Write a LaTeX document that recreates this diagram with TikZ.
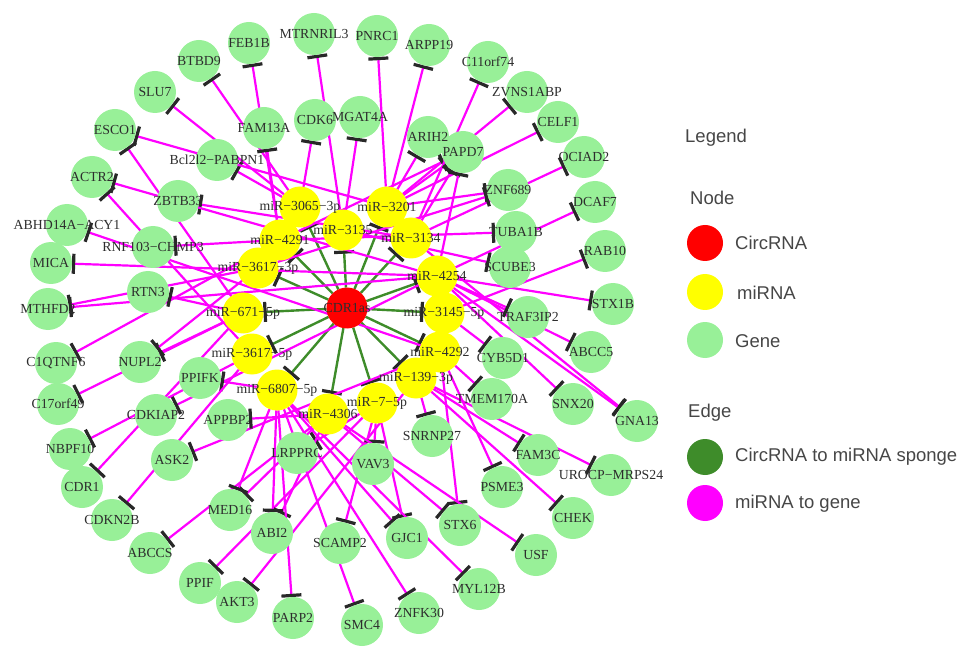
\documentclass[tikz,border=0pt]{standalone}
\usepackage{fontspec}
\setmainfont{Liberation Serif}
\newfontfamily\legfont{Liberation Sans}
\usetikzlibrary{arrows.meta}
\pgfdeclarelayer{bg}
\pgfsetlayers{bg,main}
\definecolor{genefill}{RGB}{152,240,152}
\definecolor{mirfill}{RGB}{255,255,0}
\definecolor{circfill}{RGB}{255,0,0}
\definecolor{spongecol}{RGB}{62,140,42}
\definecolor{mgcol}{RGB}{255,0,255}
\definecolor{barcol}{RGB}{40,40,40}
\definecolor{labcol}{RGB}{45,45,45}
\definecolor{legcol}{RGB}{70,70,70}
\def\genes{BTBD9/199/61/BTBD9, FEB1B/249/43/FEB1B, MTRN/314/34/MTRNRIL3, PNRC1/377/36/PNRC1, ARPP19/429/45/ARPP19, C11orf74/488/62/C11orf74, ZVNS/527/92/ZVNS1ABP, CELF1/558/122/CELF1, OCIAD2/584/157/OCIAD2, DCAF7/595/202/DCAF7, RAB10/605/251/RAB10, STX1B/613/304/STX1B, ABCC5/591/352/ABCC5, SNX20/573/404/SNX20, GNA13/637/421/GNA13, UROCP/611/475/UROCP−MRPS24, CHEK/573/518/CHEK, USF/536/555/USF, MYL12B/479/589/MYL12B, ZNFK30/419/613/ZNFK30, SMC4/362/625/SMC4, PARP2/293/618/PARP2, AKT3/237/602/AKT3, PPIF/200/583/PPIF, ABCCS/150/553/ABCCS, CDKN2B/112/520/CDKN2B, CDR1/82/487/CDR1, NBPF10/70/449/NBPF10, C17orf49/58/404/C17orf49, C1QTNF6/56/363/C1QTNF6, MTHFD2/48/309/MTHFD2, MICA/51/263/MICA, ABHD/67/225/ABHD14A−ACY1, ACTR2/92/177/ACTR2, ESCO1/115/130/ESCO1, SLU7/155/92/SLU7, FAM13A/264/128/FAM13A, CDK6/315/120/CDK6, MGAT4A/360/117/MGAT4A, ARIH2/428/137/ARIH2, PAPD7/463/152/PAPD7, ZNF689/508/190/ZNF689, TUBA1B/516/232/TUBA1B, SCUBE3/510/267/SCUBE3, TRAF/528/317/TRAF3IP2, CYB5D1/503/358/CYB5D1, TMEM/492/399/TMEM170A, FAM3C/538/455/FAM3C, PSME3/502/487/PSME3, STX6/460/525/STX6, SNRNP/432/436/SNRNP27, GJC1/407/538/GJC1, VAV3/373/464/VAV3, SCAMP2/340/543/SCAMP2, ABI2/272/533/ABI2, LRPPRC/297/453/LRPPRC, MED16/230/510/MED16, ASK2/172/460/ASK2, APPBP2/228/420/APPBP2, CDKIAP2/156/415/CDKIAP2, PPIFK/200/378/PPIFK, NUPL2/140/362/NUPL2, RTN3/148/292/RTN3, RNF103/153/247/RNF103−CHMP3, ZBTB33/178/201/ZBTB33, PABPN/217/160/Bcl2l2−PABPN1}
\def\mirs{mA/300/207/miR−3065−3p, mB/387/207/miR−3201, mC/343/230/miR−3135, mD/411/238/miR−3134, mE/437/276/miR−4254, mF/444/313/miR−3145−5p, mG/440/352/miR−4292, mH/416/378/miR−139−3p, mI/377/403/miR−7−5p, mJ/328/414/miR−4306, mK/277/390/miR−6807−5p, mL/252/354/miR−3617−5p, mM/243/313/miR−671−5p, mN/258/268/miR−3617−3p, mO/280/240/miR−4291}
\begin{document}
\begin{tikzpicture}[x=1pt,y=-1pt,
  gene/.style={circle, fill=genefill, minimum size=42pt, inner sep=0pt, outer sep=0pt},
  mir/.style={circle, fill=mirfill, minimum size=41pt, inner sep=0pt, outer sep=0pt},
  circ/.style={circle, fill=circfill, minimum size=41pt, inner sep=0pt, outer sep=0pt},
  lab/.style={font=\fontsize{13.8}{14}\selectfont, text=labcol, inner sep=0pt},
  medge/.style={draw=mgcol, line width=2.2pt, -{Bar[width=20pt,line width=3.2pt,color=barcol]}},
  gedge/.style={draw=spongecol, line width=2.4pt, -{Bar[width=20pt,line width=3.2pt,color=barcol]}},
  legtext/.style={font=\legfont\fontsize{18.5}{19}\selectfont, text=legcol, anchor=west, inner sep=0pt},
  legdot/.style={circle, minimum size=36pt, inner sep=0pt}
]
\useasboundingbox (0,0) rectangle (969,660);
% nodes
\foreach \nm/\xx/\yy/\lb in \genes {\node[gene] (\nm) at (\xx,\yy) {};}
\foreach \nm/\xx/\yy/\lb in \mirs {\node[mir] (\nm) at (\xx,\yy) {};}
\node[circ] (cdr) at (347,308) {};
% edges
\begin{pgfonlayer}{bg}
\foreach \tg in {mA,mB,mC,mD,mE,mF,mG,mH,mI,mJ,mK,mL,mM,mN,mO}
  {\draw[gedge] (cdr) -- (\tg);}
\foreach \sr/\tg in {
  mA/BTBD9, mA/CDK6, mA/SLU7, mA/PABPN,
  mO/FEB1B, mO/FAM13A, mO/C1QTNF6, mO/RNF103, mO/TUBA1B, mO/PAPD7,
  mC/MTRN, mC/MGAT4A, mC/SCUBE3,
  mB/PNRC1, mB/ARPP19, mB/ARIH2, mB/ESCO1, mB/CELF1, mB/ZVNS, mB/PAPD7, mB/ZNF689,
  mD/C11orf74, mD/OCIAD2, mD/GNA13, mD/ZBTB33, mD/PAPD7,
  mE/ACTR2, mE/MICA, mE/MTHFD2, mE/GNA13, mE/SNX20, mE/ABCC5, mE/STX1B, mE/DCAF7, mE/TRAF, mE/PAPD7, mE/CDKIAP2,
  mF/RAB10, mF/CYB5D1,
  mG/ABHD, mG/STX6, mG/PSME3, mG/TMEM, mG/ASK2,
  mH/AKT3, mH/CHEK, mH/UROCP, mH/FAM3C, mH/SNRNP,
  mI/PPIF, mI/SCAMP2, mI/GJC1, mI/VAV3, mI/LRPPRC,
  mJ/ABCCS, mJ/STX6, mJ/USF, mJ/APPBP2, mJ/MED16, mJ/ABI2,
  mK/PARP2, mK/SMC4, mK/ZNFK30, mK/GJC1, mK/MYL12B, mK/MED16, mK/ABI2, mK/PPIFK,
  mL/ACTR2, mL/NBPF10, mL/CDKN2B,
  mM/ESCO1, mM/C17orf49, mM/CDR1, mM/NUPL2, mM/RTN3,
  mN/MTHFD2, mN/ZNF689, mN/NUPL2}
  {\draw[medge] (\sr) -- (\tg);}
\end{pgfonlayer}
% labels
\foreach \nm/\xx/\yy/\lb in \genes {\node[lab] at (\nm) {\lb};}
\foreach \nm/\xx/\yy/\lb in \mirs {\node[lab] at (\nm) {\lb};}
\node[lab] at (cdr) {CDR1as};
% legend
\node[legtext] (lgT) at (685,138) {Legend};
\node[legtext] (lgN) at (690,198) {Node};
\node[legdot, fill=circfill] (lc) at (705,243) {};
\node[legtext] (lct) at (735,243) {CircRNA};
\node[legdot, fill=mirfill] (lm) at (705,292) {};
\node[legtext] (lmt) at (737,293) {miRNA};
\node[legdot, fill=genefill] (lg) at (705,340) {};
\node[legtext] (lgt) at (735,341) {Gene};
\node[legtext] (lgE) at (688,413) {Edge};
\node[legdot, fill=spongecol] (le1) at (705,457) {};
\node[legtext] (le1t) at (735,457) {CircRNA to miRNA sponge};
\node[legdot, fill=mgcol] (le2) at (705,503) {};
\node[legtext] (le2t) at (735,504) {miRNA to gene};
\end{tikzpicture}
\end{document}
